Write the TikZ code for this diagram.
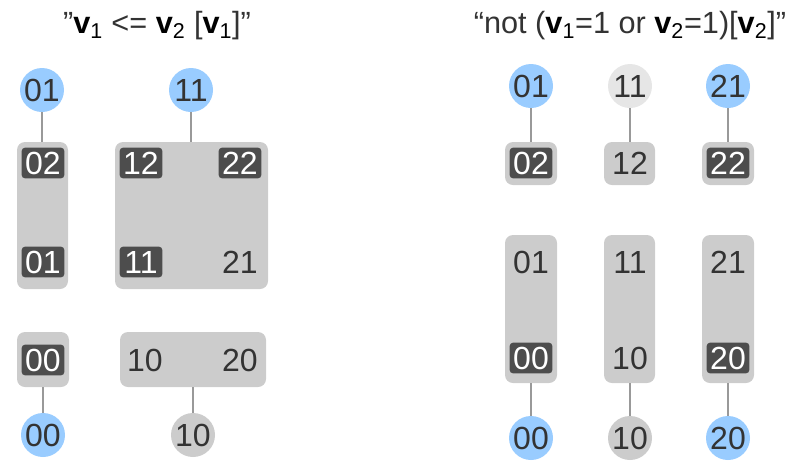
\documentclass[tikz,border=0pt]{standalone}
\usepackage{fontspec}
\setmainfont{Liberation Sans}
\usetikzlibrary{positioning, fit}

\definecolor{stateblue}{HTML}{99CCFF}
\definecolor{stategray}{HTML}{CCCCCC}
\definecolor{statelight}{HTML}{E6E6E6}
\definecolor{boxgray}{HTML}{CCCCCC}
\definecolor{labdark}{HTML}{4D4D4D}
\definecolor{txtgray}{HTML}{333333}
\definecolor{linegray}{HTML}{999999}

\newcommand{\bv}[1]{\textcolor{black}{\textbf{v}\textsubscript{#1}}}

\tikzset{
  state/.style={circle, minimum size=33pt, inner sep=0pt, fill=stateblue, text=txtgray, font=\fontsize{24}{26}\selectfont},
  lab/.style={rectangle, rounded corners=2.5pt, minimum width=32pt, minimum height=23pt, inner sep=0pt, text=txtgray, font=\fontsize{24}{26}\selectfont},
  hilab/.style={lab, fill=labdark, text=white},
  grp/.style={rectangle, rounded corners=6pt, fill=boxgray, inner sep=0pt},
  link/.style={linegray, line width=1.3pt},
  title/.style={font=\fontsize{23}{26}\selectfont, text=txtgray}
}

\begin{document}
\begin{tikzpicture}[x=0.75pt, y=-0.75pt]
  \useasboundingbox (0,0) rectangle (795,472);

  % Left: "v1 <= v2 [v1]"
  \node[title] (t1) at (157,26) {”\bv{1} <= \bv{2} [\bv{1}]”};

  % groups
  \node[grp, fit={(17,142) (68,289)}] (g1) {};
  \node[grp, fit={(115,142) (268,289)}] (g2) {};
  \node[grp, fit={(17,332) (69,387)}] (g3) {};
  \node[grp, fit={(120,332) (266,387)}] (g4) {};

  % states inside groups
  \node[hilab] (b02) at (43,163) {02};
  \node[hilab] (b01) at (43,262) {01};
  \node[hilab] (b12) at (141,163) {12};
  \node[hilab] (b22) at (240,163) {22};
  \node[hilab] (b11) at (141,262) {11};
  \node[lab] (b21) at (240,262) {21};
  \node[hilab] (b00) at (43,360) {00};
  \node[lab] (b10) at (145,360) {10};
  \node[lab] (b20) at (240,360) {20};

  % initial / final states
  \node[state] (a01) at (42,90) {01};
  \node[state] (a11) at (191,90) {11};
  \node[state] (a00) at (43,435) {00};
  \node[state, fill=stategray] (a10) at (193,435) {10};

  \draw[link] (a01) -- (a01 |- g1.north);
  \draw[link] (a11) -- (a11 |- g2.north);
  \draw[link] (a00 |- g3.south) -- (a00);
  \draw[link] (a10 |- g4.south) -- (a10);

  % Right: "not (v1=1 or v2=1)[v2]"
  \node[title] (t2) at (630,26) {“not (\bv{1}=1 or \bv{2}=1)[\bv{2}]”};

  % groups
  \node[grp, fit={(505,142) (557,185)}] (h1) {};
  \node[grp, fit={(604,142) (655,185)}] (h2) {};
  \node[grp, fit={(702,142) (754,185)}] (h3) {};
  \node[grp, fit={(505,235) (557,383)}] (k1) {};
  \node[grp, fit={(604,235) (655,383)}] (k2) {};
  \node[grp, fit={(702,235) (754,383)}] (k3) {};

  % states inside groups
  \node[hilab] (d02) at (531,163) {02};
  \node[lab] (d12) at (630,163) {12};
  \node[hilab] (d22) at (728,163) {22};
  \node[lab] (e01) at (531,262) {01};
  \node[hilab] (e00) at (531,358) {00};
  \node[lab] (e11) at (630,262) {11};
  \node[lab] (e10) at (630,358) {10};
  \node[lab] (e21) at (728,262) {21};
  \node[hilab] (e20) at (728,358) {20};

  % initial / final states
  \node[state] (c01) at (531,86) {01};
  \node[state, fill=statelight] (c11) at (630,86) {11};
  \node[state] (c21) at (728,86) {21};
  \node[state] (f00) at (531,438) {00};
  \node[state, fill=stategray] (f10) at (630,438) {10};
  \node[state] (f20) at (728,438) {20};

  \draw[link] (c01) -- (c01 |- h1.north);
  \draw[link] (c11) -- (c11 |- h2.north);
  \draw[link] (c21) -- (c21 |- h3.north);
  \draw[link] (f00 |- k1.south) -- (f00);
  \draw[link] (f10 |- k2.south) -- (f10);
  \draw[link] (f20 |- k3.south) -- (f20);
\end{tikzpicture}
\end{document}
